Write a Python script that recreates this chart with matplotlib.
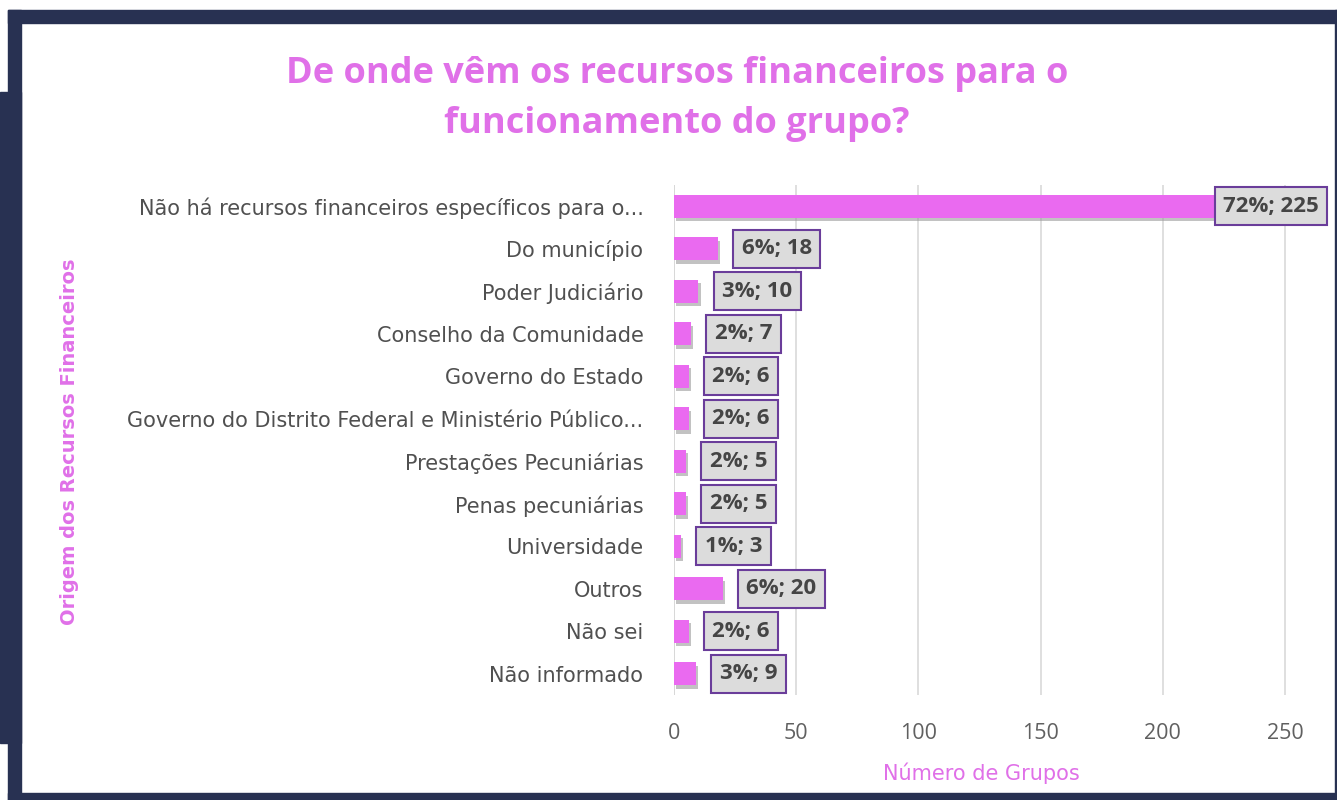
import matplotlib
matplotlib.use('Agg')
import matplotlib.pyplot as plt
from matplotlib.patches import Rectangle
import matplotlib.patheffects as pe

plt.rcParams['font.family'] = ['Open Sans', 'DejaVu Sans']

categorias = [
    'Não há recursos financeiros específicos para o...',
    'Do município',
    'Poder Judiciário',
    'Conselho da Comunidade',
    'Governo do Estado',
    'Governo do Distrito Federal e Ministério Público...',
    'Prestações Pecuniárias',
    'Penas pecuniárias',
    'Universidade',
    'Outros',
    'Não sei',
    'Não informado',
]
valores = [225, 18, 10, 7, 6, 6, 5, 5, 3, 20, 6, 9]
percentuais = [72, 6, 3, 2, 2, 2, 2, 2, 1, 6, 2, 3]
ticks_x = [0, 50, 100, 150, 200, 250]

rosa = '#ea6af0'
rosa_texto = '#e070e8'
navy = '#283152'
cinza = '#505050'

W, H = 1337, 800
fig = plt.figure(figsize=(W / 100, H / 100), dpi=100)

# moldura escura (em pixels -> coordenadas da figura)
def faixa(x0, y0, x1, y1):
    fig.patches.append(Rectangle((x0 / W, 1 - y1 / H), (x1 - x0) / W, (y1 - y0) / H,
                                 transform=fig.transFigure, color=navy, zorder=0))

faixa(8, 10, W, 23)
faixa(8, 10, 21, 800)
faixa(0, 92, 21, 743)
faixa(8, 793, W, 800)
faixa(W - 2, 10, W, 800)

ax = fig.add_axes([674 / W, 1 - 695 / H, (W - 674) / W, (695 - 185) / H])
y = list(range(len(categorias)))
xmax = (W - 674) / 2.444

bars = ax.barh(y, valores, height=0.55, color=rosa, zorder=3)
for b in bars:
    b.set_path_effects([pe.SimplePatchShadow(offset=(1.5, -2.5), shadow_rgbFace='#9a9a9a', alpha=0.6),
                        pe.Normal()])

for yi, v, p in zip(y, valores, percentuais):
    x = min(v, 215)
    ax.annotate(f'{p}%; {v}', xy=(x, yi), xytext=(17, 0), textcoords='offset points',
                va='center', ha='left', fontsize=16, fontweight='bold', color='#454545',
                bbox=dict(boxstyle='square,pad=0.38', fc='#dcdcdc', ec='#6a3d9a', lw=1.5),
                zorder=5, annotation_clip=False)

ax.set_xlim(0, xmax)
ax.set_ylim(len(categorias) - 0.5, -0.5)
ax.set_xticks(ticks_x)
ax.set_xticklabels([str(t) for t in ticks_x], fontsize=15.5, color='#606060')
ax.set_yticks(y)
ax.set_yticklabels(categorias, fontsize=15, color=cinza, family='DejaVu Sans')
ax.tick_params(length=0, axis='y', pad=22)
ax.tick_params(length=0, axis='x', pad=20)
ax.grid(axis='x', color='#d9d9d9', lw=1.2, zorder=0)
for s in ax.spines.values():
    s.set_visible(False)
ax.axvline(0, color='#d0d0d0', lw=1.2, zorder=1)

fig.text(677 / W, 1 - 74 / H, 'De onde vêm os recursos financeiros para o',
         ha='center', va='center', fontsize=26, fontweight='bold', color=rosa_texto)
fig.text(677 / W, 1 - 124 / H, 'funcionamento do grupo?',
         ha='center', va='center', fontsize=26, fontweight='bold', color=rosa_texto)
fig.text(70 / W, 1 - 442 / H, 'Origem dos Recursos Financeiros', rotation=90,
         ha='center', va='center', fontsize=14, fontweight='bold', color=rosa_texto,
         family='DejaVu Sans')
fig.text(981 / W, 1 - 773 / H, 'Número de Grupos',
         ha='center', va='center', fontsize=15, color=rosa_texto, family='DejaVu Sans')

fig.savefig('out.png', dpi=100)
